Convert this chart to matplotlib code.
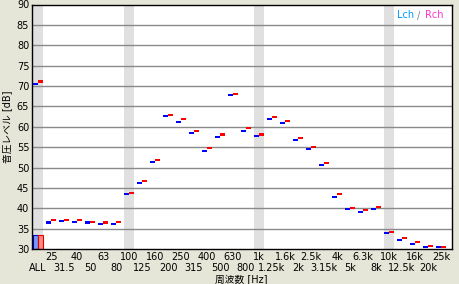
import matplotlib
matplotlib.use("Agg")
import matplotlib.pyplot as plt

plt.rcParams['font.family'] = ['DejaVu Sans', 'Noto Sans CJK JP']

# 1/3 octave bands (plus overall)
bands = ['ALL', '25', '31.5', '40', '50', '63', '80', '100', '125', '160',
         '200', '250', '315', '400', '500', '630', '800', '1k', '1.25k', '1.6k',
         '2k', '2.5k', '3.15k', '4k', '5k', '6.3k', '8k', '10k', '12.5k', '16k',
         '20k', '25k']

# levels in dB
lch = [70.6, 36.5, 36.9, 36.7, 36.5, 36.2, 36.2, 43.5, 46.2, 51.4,
       62.7, 61.2, 58.5, 54.1, 57.6, 67.9, 59.0, 57.8, 62.0, 61.0,
       56.8, 54.6, 50.7, 42.8, 39.8, 39.1, 39.8, 33.9, 32.2, 31.2,
       30.5, 30.5]
rch = [71.1, 37.0, 37.1, 37.0, 36.7, 36.5, 36.7, 43.8, 46.8, 51.9,
       63.0, 61.8, 58.9, 54.7, 58.1, 68.1, 59.6, 58.1, 62.5, 61.5,
       57.2, 55.0, 51.2, 43.4, 40.1, 39.6, 40.3, 34.2, 32.7, 31.7,
       30.7, 30.5]
# the small bars drawn at "ALL"
all_bar = [33.4, 33.4]

shaded = ['ALL', '100', '1k', '10k']

bg = '#e6e6d8'
fig = plt.figure(figsize=(4.59, 2.84), dpi=100, facecolor=bg)
ax = fig.add_axes([32 / 459, 35 / 284, 420 / 459, 244.5 / 284])
ax.set_facecolor('white')

half = 5 / 13
dash_h = 0.5

for b in shaded:
    i = bands.index(b)
    ax.axvspan(i, i + 10 / 13, color='#e0e0e0', lw=0, zorder=0)

for y in range(35, 90, 5):
    ax.axhline(y, color='#8a8a8a', lw=1.0, zorder=1)

# overall bars
ax.bar(0, all_bar[0] - 30, bottom=30, width=half, align='edge',
       facecolor='#7896ff', edgecolor='#0000d0', lw=0.8, zorder=2)
ax.bar(half, all_bar[1] - 30, bottom=30, width=half, align='edge',
       facecolor='#ff8a80', edgecolor='#e00000', lw=0.8, zorder=2)

x = list(range(len(bands)))
ax.bar(x, dash_h, bottom=[v - dash_h / 2 for v in lch], width=half,
       align='edge', color='#0000ff', lw=0, zorder=3)
ax.bar([i + half for i in x], dash_h, bottom=[v - dash_h / 2 for v in rch],
       width=half, align='edge', color='#ff0000', lw=0, zorder=3)

ax.set_xlim(-1 / 13, 32.23)
ax.set_ylim(30, 90)
ax.set_yticks(range(30, 91, 5))
ax.tick_params(axis='y', length=0, pad=2, labelsize=7)

odd = [i for i in x if i % 2 == 1]
even = [i for i in x if i % 2 == 0]
ax.set_xticks([i + half for i in odd])
ax.set_xticklabels([bands[i] for i in odd])
ax.set_xticks([i + half for i in even], minor=True)
ax.set_xticklabels([bands[i] for i in even], minor=True)
ax.tick_params(axis='x', which='major', length=0, pad=2, labelsize=7)
ax.tick_params(axis='x', which='minor', length=0, pad=10, labelsize=7)

for s in ax.spines.values():
    s.set_color('black')
    s.set_linewidth(1.0)

fig.text(241 / 459, 1 - 279.5 / 284, '周波数 [Hz]', ha='center', va='center',
         fontsize=7)
fig.text(7.5 / 459, 1 - 127 / 284, '音圧レベル [dB]', ha='center', va='center',
         rotation=90, fontsize=7)

fig.text(397 / 459, 1 - 15.5 / 284, 'Lch', color='#0099ff', fontsize=7, va='center')
fig.text(417 / 459, 1 - 15.5 / 284, '/', color='#808080', fontsize=7, va='center')
fig.text(425 / 459, 1 - 15.5 / 284, 'Rch', color='#ff33cc', fontsize=7, va='center')

fig.savefig('out.png', dpi=100, facecolor=bg)
